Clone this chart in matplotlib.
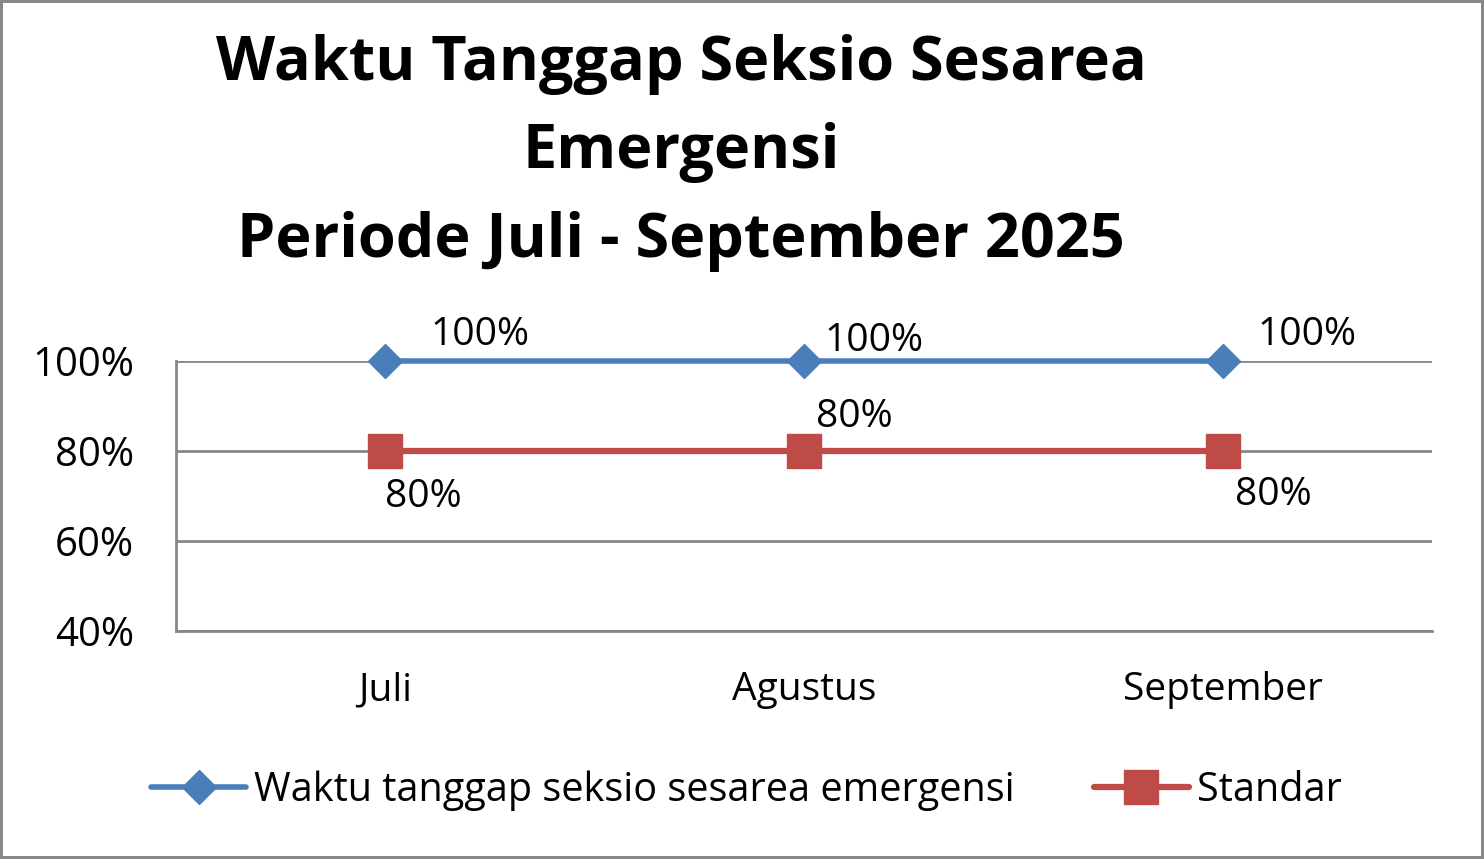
import matplotlib
matplotlib.use("Agg")
import matplotlib.pyplot as plt
from matplotlib.ticker import FuncFormatter

plt.rcParams['font.family'] = ['Open Sans', 'DejaVu Sans']

bulan = ['Juli', 'Agustus', 'September']
waktu_tanggap = [100, 100, 100]
standar = [80, 80, 80]
nama_waktu = 'Waktu tanggap seksio sesarea emergensi'
nama_standar = 'Standar'
judul = 'Waktu Tanggap Seksio Sesarea\nEmergensi\nPeriode Juli - September 2025'

biru = '#4A7EBB'
merah = '#BE4B48'
abu = '#878787'

fig = plt.figure(figsize=(14.84, 8.59), dpi=100)
fig.patch.set_edgecolor(abu)
fig.patch.set_linewidth(3)
ax = fig.add_axes([0.1186, 0.2654, 0.8464, 0.3143])

x = range(len(bulan))
ax.plot(x, waktu_tanggap, color=biru, lw=4, marker='D', ms=17.5, label=nama_waktu,
        zorder=4, clip_on=False, solid_capstyle='round')
ax.plot(x, standar, color=merah, lw=4.5, marker='s', ms=24, label=nama_standar,
        zorder=3, solid_capstyle='round')

# label data (posisi seperti di Excel)
off_biru = [(45, 26), (20, 20), (35, 26)]
for i, v in enumerate(waktu_tanggap):
    ax.annotate(f'{v}%', (i, v), xytext=off_biru[i], textcoords='offset pixels',
                ha='left', va='center', fontsize=28)
off_merah = [(0, -46), (12, 34), (12, -44)]
for i, v in enumerate(standar):
    ax.annotate(f'{v}%', (i, v), xytext=off_merah[i], textcoords='offset pixels',
                ha='left', va='center', fontsize=28)

ax.set_xlim(-0.5, 2.5)
ax.set_ylim(40, 100)
ax.set_yticks([40, 60, 80, 100])
ax.yaxis.set_major_formatter(FuncFormatter(lambda v, p: f'{v:.0f}%'))
ax.set_xticks(list(x))
ax.set_xticklabels(bulan)
ax.grid(axis='y', color=abu, lw=2)
ax.set_axisbelow(True)
for s in ['top', 'right']:
    ax.spines[s].set_visible(False)
for s in ['left', 'bottom']:
    ax.spines[s].set_color(abu)
    ax.spines[s].set_linewidth(2)
ax.tick_params(axis='y', length=0, pad=30, labelsize=29)
ax.tick_params(axis='x', length=0, pad=29, labelsize=28)

fig.text(0.459, 0.822, judul, ha='center', va='center', fontsize=44,
         fontweight='bold', linespacing=1.6)

fig.legend(loc='center', bbox_to_anchor=(0.503, 0.080), ncol=2, frameon=False,
           fontsize=28.5, handlelength=2.4, handletextpad=0.2, columnspacing=2.0)

fig.savefig('out.png', dpi=100)
